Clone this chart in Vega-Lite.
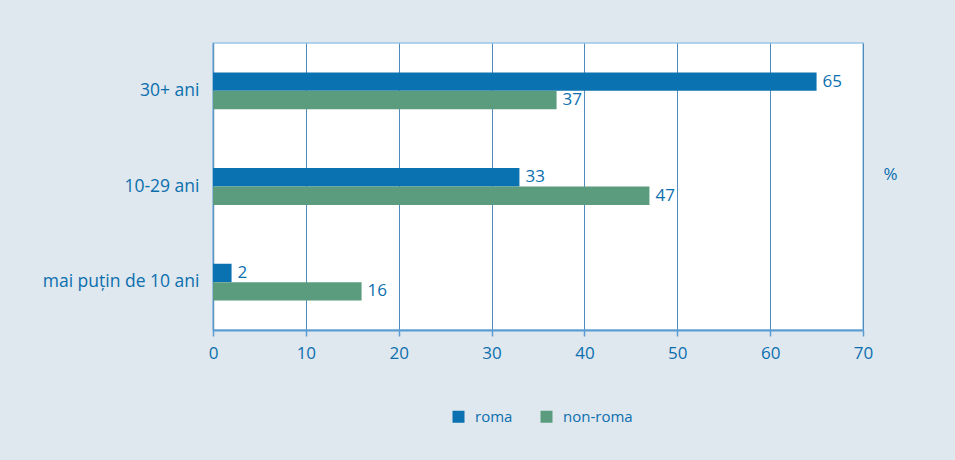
{
  "$schema": "https://vega.github.io/schema/vega-lite/v6.json",
  "autosize": {"type": "none"},
  "width": 650,
  "height": 287,
  "padding": {"left": 213, "top": 43, "right": 92, "bottom": 130},
  "background": "#dfe7ef",
  "config": {
    "font": "Open Sans",
    "view": {"fill": "#ffffff", "stroke": "#9cc6e6", "strokeWidth": 1.5},
    "axis": {"labelColor": "#0b6fae", "titleColor": "#0b6fae", "labelFont": "Open Sans", "titleFont": "Open Sans"}
  },
  "data": {
    "values": [
      {"age": "30+ ani", "group": "roma", "value": 65},
      {"age": "30+ ani", "group": "non-roma", "value": 37},
      {"age": "10-29 ani", "group": "roma", "value": 33},
      {"age": "10-29 ani", "group": "non-roma", "value": 47},
      {"age": "mai puțin de 10 ani", "group": "roma", "value": 2},
      {"age": "mai puțin de 10 ani", "group": "non-roma", "value": 16}
    ]
  },
  "encoding": {
    "y": {
      "field": "age", "type": "nominal",
      "sort": ["30+ ani", "10-29 ani", "mai puțin de 10 ani"],
      "scale": {"paddingInner": 0.615, "paddingOuter": 0.3075},
      "axis": {"title": null, "ticks": false, "domain": true, "domainColor": "#5b95c4", "domainWidth": 1.5, "labelFontSize": 17.5, "labelPadding": 14}
    },
    "yOffset": {"field": "group", "type": "nominal", "sort": ["roma", "non-roma"], "scale": {"paddingInner": 0, "paddingOuter": 0}},
    "x": {
      "field": "value", "type": "quantitative",
      "scale": {"domain": [0, 70], "nice": false},
      "axis": {
        "values": [0, 10, 20, 30, 40, 50, 60, 70],
        "labelFlush": false,
        "title": "%", "titleFontSize": 17, "titleFontWeight": "normal",
        "titleX": 677, "titleY": -156, "titleAlign": "center", "titleBaseline": "middle",
        "grid": true, "gridColor": "#4f8bbd", "gridWidth": 1,
        "domainColor": "#5b9dd3", "domainWidth": 2,
        "tickColor": "#5b9dd3", "tickSize": 6, "tickWidth": 1.5,
        "labelFontSize": 17, "labelPadding": 9
      }
    }
  },
  "layer": [
    {
      "mark": {"type": "bar"},
      "encoding": {
        "color": {
          "field": "group", "type": "nominal",
          "scale": {"domain": ["roma", "non-roma"], "range": ["#0a72b0", "#5b9c7f"]},
          "legend": {
            "title": null, "orient": "none", "direction": "horizontal",
            "legendX": 238, "legendY": 366,
            "symbolType": "square", "symbolSize": 144, "symbolStrokeWidth": 0,
            "labelFontSize": 15, "labelColor": "#0b6fae", "labelFont": "Open Sans",
            "labelOffset": 9, "columnPadding": 26
          }
        }
      }
    },
    {
      "mark": {"type": "text", "align": "left", "baseline": "middle", "dx": 6, "fontSize": 17, "color": "#0b6fae"},
      "encoding": {"text": {"field": "value", "type": "quantitative"}}
    }
  ]
}
